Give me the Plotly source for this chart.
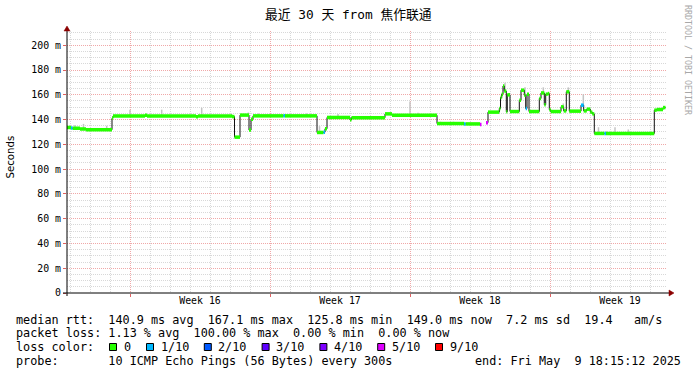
import pandas as pd
import plotly.graph_objects as go

# ---------------- data ----------------
TITLE = "最近 30 天 from 焦作联通"
t0 = pd.Timestamp("2025-04-09 20:24:00")   # left edge of the 30-day window
SPAN_DAYS = 30
DAY_MS = 86400000

# median rtt (ms) step series: segment start (days from t0), value, loss (tenths)
med_day = [0.00, 0.20, 0.275, 0.65, 0.95, 2.25, 2.30, 3.90, 4.00, 6.45,
           6.55, 8.25, 8.375, 8.65, 9.10, 9.20, 9.30, 10.825, 10.90, 12.50,
           12.825, 12.90, 13.00, 14.15, 14.225, 15.90, 16.25, 18.50, 19.85, 19.925,
           20.65, 20.725, 20.95, 21.05, 21.615, 21.675, 21.735, 21.80, 21.865, 21.965,
           22.015, 22.15, 22.615, 22.70, 22.865, 22.935, 23.00, 23.10, 23.615, 23.70,
           23.865, 23.935, 24.035, 24.115, 24.185, 24.70, 24.835, 24.965, 25.115, 25.70,
           25.835, 25.985, 26.165, 26.265, 26.365, 26.875, 26.95, 29.365, 29.485, 29.80]
med_ms = [133.6, 133.2, 133.0, 132.4, 131.8, 141.0, 142.9, 143.4, 142.9, 142.3,
          142.9, 142.4, 125.8, 143.6, 131.5, 140.2, 143.0, 143.0, 143.0, 129.6,
          129.8, 132.6, 141.7, 139.8, 141.5, 144.6, 143.5, 136.8, 136.5, 136.5,
          136.0, None, 137.5, 146.0, 149.0, 157.8, 160.5, 167.1, 163.0, 146.3,
          160.0, 146.5, 155.6, 163.7, 159.7, 148.9, 160.5, 146.5, 157.0, 161.5,
          152.0, 160.5, 161.0, 148.0, 146.5, 150.3, 147.0, 162.4, 146.8, 151.6,
          147.0, 148.4, 146.0, 144.6, 128.8, 128.8, 128.8, 147.6, 148.1, 149.7]
med_loss = [0, 1, 0, 0, 0, 0, 0, 0, 0, 0,
            0, 0, 0, 0, 0, 0, 0, 1, 0, 0,
            1, 0, 0, 0, 0, 0, 0, 0, 1, 0,
            5, 10, 5, 0, 0, 0, 0, 0, 0, 0,
            0, 0, 0, 0, 0, 1, 0, 0, 0, 0,
            0, 0, 0, 0, 0, 0, 0, 0, 0, 1,
            0, 0, 0, 0, 0, 1, 0, 0, 0, 0]
data_end_day = 29.925

# smoke (spread of the individual pings)
smoke_day = [0.40, 0.825, 1.985, 3.15, 4.735, 6.735, 8.235, 9.065, 9.575, 11.985,
             12.625, 13.55, 15.985, 17.15, 17.55, 18.675, 19.325, 21.735, 21.90, 22.90,
             23.815, 24.815, 25.065, 25.815, 26.575, 26.985, 27.40, 28.065]
smoke_lo = [132.5, 132.0, 131.5, 142.5, 142.5, 142.5, 142.5, 143.0, 143.0, 143.0,
            129.5, 141.5, 144.0, 143.5, 143.5, 136.5, 136.5, 157.0, 163.0, 159.0,
            161.0, 150.0, 162.0, 151.0, 128.8, 128.8, 128.8, 128.8]
smoke_hi = [135.6, 136.5, 135.0, 148.0, 148.0, 149.5, 144.5, 145.7, 145.0, 145.0,
            134.7, 144.5, 145.6, 154.5, 145.5, 138.3, 138.3, 161.0, 169.8, 166.0,
            166.0, 153.0, 166.0, 160.5, 133.8, 130.5, 133.8, 132.0]

# axes
y_ticks = [0, 20, 40, 60, 80, 100, 120, 140, 160, 180, 200]
y_ticktext = ["0", "20 m", "40 m", "60 m", "80 m", "100 m", "120 m", "140 m",
              "160 m", "180 m", "200 m"]
week_start = ["2025-04-13", "2025-04-20", "2025-04-27", "2025-05-04"]
week_labels = ["Week 16", "Week 17", "Week 18", "Week 19"]

# legend / statistics
loss_labels = ["0", "1/10", "2/10", "3/10", "4/10", "5/10", "9/10"]
loss_tenths = [0, 1, 2, 3, 4, 5, 9]
loss_colors = ["#26ff00", "#00b8ff", "#0059ff", "#5e00ff", "#7e00ff", "#dd00ff", "#ff0000"]
rtt_avg, rtt_max, rtt_min, rtt_now, rtt_sd, am_s = 140.9, 167.1, 125.8, 149.0, 7.2, 19.4
loss_avg, loss_max, loss_min, loss_now = 1.13, 100.00, 0.00, 0.00
probe_text = "10 ICMP Echo Pings (56 Bytes) every 300s"
end_text = "end: Fri May  9 18:15:12 2025"

# ---------------- styling ----------------
W, H = 697, 375
PL, PR, PT, PB = 67, 667, 31, 293
MONO = "DejaVu Sans Mono"
MAJOR_GRID = "#f0a8a8"
MINOR_GRID = "#d8d8d8"
DOT = "1px,1px"
BAND_PX = 3.5       # thickness of the median band (px)
SMOKE_W = 0.075     # smoke bar width (days)
ARROW = "#8b0000"

def px_x(x):
    return (x - PL) / (PR - PL)

def px_y(y):
    return (PB - y) / (PB - PT)

def at(d):
    return t0 + pd.to_timedelta(d, unit="D")

color_of = dict(zip(loss_tenths, loss_colors))

fig = go.Figure()

# smoke
fig.add_trace(go.Bar(
    x=[at(d) for d in smoke_day],
    y=[h - l for h, l in zip(smoke_hi, smoke_lo)],
    base=smoke_lo,
    width=[SMOKE_W * DAY_MS] * len(smoke_day),
    marker=dict(color="#c4c4c4", line=dict(width=0)),
    showlegend=False, hoverinfo="skip"))

# thin dark median line
line_x = [at(d) for d in med_day] + [at(data_end_day)]
line_y = list(med_ms) + [med_ms[-1]]
fig.add_trace(go.Scatter(
    x=line_x, y=line_y, mode="lines", line=dict(color="#101010", width=1, shape="hv"),
    connectgaps=False, showlegend=False, hoverinfo="skip"))

# loss-coloured median bands (horizontal pieces only)
ends = med_day[1:] + [data_end_day]
for cls in sorted(set(med_loss)):
    if cls not in color_of:
        continue
    sx, sy = [], []
    for s, e, v, l in zip(med_day, ends, med_ms, med_loss):
        if v is None or l != cls:
            continue
        sx += [at(s), at(e), None]
        sy += [v, v, None]
    fig.add_trace(go.Scatter(
        x=sx, y=sy, mode="lines", line=dict(color=color_of[cls], width=BAND_PX),
        connectgaps=False, showlegend=False, hoverinfo="skip"))

# dummy trace so the label axis is drawn
fig.add_trace(go.Scatter(x=[t0], y=[None], xaxis="x2", mode="markers",
                         showlegend=False, hoverinfo="skip"))

t_range = [t0, t0 + pd.Timedelta(days=SPAN_DAYS)]
week_mid = [pd.Timestamp(w) + pd.Timedelta(hours=84) for w in week_start]

fig.update_layout(
    width=W, height=H, autosize=False,
    margin=dict(l=PL, r=W - PR, t=PT, b=H - PB, pad=0, autoexpand=False),
    paper_bgcolor="white", plot_bgcolor="white",
    barmode="overlay", showlegend=False,
    font=dict(family=MONO, color="black"),
    xaxis=dict(
        type="date", range=t_range, tickmode="linear",
        tick0=week_start[0], dtick=7 * DAY_MS,
        showticklabels=False, showgrid=True, gridcolor=MAJOR_GRID, griddash=DOT,
        gridwidth=1, ticks="outside", ticklen=3, tickcolor="#e06060",
        minor=dict(tick0="2025-04-10", dtick=DAY_MS, showgrid=True,
                   gridcolor=MINOR_GRID, griddash=DOT, gridwidth=1),
        zeroline=False, showline=False, fixedrange=True, automargin=False),
    xaxis2=dict(
        type="date", range=t_range, overlaying="x", anchor="y", side="bottom",
        tickmode="array", tickvals=week_mid, ticktext=week_labels,
        showgrid=False, ticks="", zeroline=False, showline=False,
        tickfont=dict(family=MONO, size=9.9, color="black"), fixedrange=True,
        automargin=False),
    yaxis=dict(
        range=[0, 211.5], tickmode="array", tickvals=y_ticks, ticktext=y_ticktext,
        showgrid=True, gridcolor=MAJOR_GRID, griddash=DOT, gridwidth=1,
        ticks="outside", ticklen=3, tickcolor="#e06060",
        minor=dict(tick0=0, dtick=5, showgrid=True, gridcolor=MINOR_GRID,
                   griddash=DOT, gridwidth=1),
        tickfont=dict(family=MONO, size=9.9, color="black"),
        zeroline=False, showline=False, fixedrange=True, automargin=False),
)

shapes = [
    # axis lines
    dict(type="line", xref="paper", yref="paper", x0=px_x(67), x1=px_x(67),
         y0=px_y(296), y1=px_y(28), line=dict(color="#000000", width=1)),
    dict(type="line", xref="paper", yref="paper", x0=px_x(63), x1=px_x(670),
         y0=px_y(293), y1=px_y(293), line=dict(color="#000000", width=1)),
    # arrow heads
    dict(type="path", xref="paper", yref="paper", xsizemode="pixel", ysizemode="pixel",
         xanchor=0, yanchor=1, path="M -3,0 L 3,0 L 0,5 Z",
         fillcolor=ARROW, line=dict(color=ARROW, width=0.5)),
    dict(type="path", xref="paper", yref="paper", xsizemode="pixel", ysizemode="pixel",
         xanchor=1, yanchor=0, path="M 2,-3 L 2,3 L 7,0 Z",
         fillcolor=ARROW, line=dict(color=ARROW, width=0.5)),
]

annotations = []

def txt(x, y, s, size=11.8, anchor="left", color="black", angle=0, family=MONO):
    annotations.append(dict(
        x=px_x(x), y=px_y(y), xref="paper", yref="paper", text=s.replace(" ", "\u00a0"),
        showarrow=False, xanchor=anchor, yanchor="middle", textangle=angle,
        borderpad=0, borderwidth=0,
        font=dict(family=family, size=size, color=color)))

txt(348, 15, TITLE, size=12.8, anchor="center", family=MONO + ", Noto Sans CJK SC")
txt(688, 60, "RRDTOOL / TOBI OETIKER", size=8.3, anchor="center", color="#a8a8a8", angle=90)
txt(10, 157.5, "Seconds", size=10.2, anchor="center", angle=-90, family="DejaVu Sans")

line1 = (f"median rtt:  {rtt_avg:.1f} ms avg  {rtt_max:.1f} ms max  {rtt_min:.1f} ms min  "
         f"{rtt_now:.1f} ms now  {rtt_sd:.1f} ms sd  {am_s:.1f}   am/s")
line2 = (f"packet loss: {loss_avg:.2f} % avg  {loss_max:.2f} % max  "
         f"{loss_min:.2f} % min  {loss_now:.2f} % now")
line4 = "probe:       " + probe_text
txt(16, 319.5, line1)
txt(16, 333.3, line2)
txt(16, 347.0, "loss color:")
txt(16, 360.8, line4)
txt(681, 360.8, end_text, anchor="right")

# loss colour swatches
sw_left = 109.0
for i, (lab, col) in enumerate(zip(loss_labels, loss_colors)):
    shapes.append(dict(type="rect", xref="paper", yref="paper",
                       x0=px_x(sw_left + 0.5), x1=px_x(sw_left + 7.5),
                       y0=px_y(350.5), y1=px_y(343.5),
                       fillcolor=col, line=dict(color="black", width=1)))
    txt(sw_left + 14.5, 347.0, lab)
    sw_left += 14.5 + 7.1 * len(lab) + 14.5 + (0.9 if len(lab) == 1 else 0.4)

fig.update_layout(shapes=shapes, annotations=annotations)
fig.write_html("out.html", config={"displayModeBar": False, "staticPlot": True},
               post_script="document.body.style.margin='0';")
